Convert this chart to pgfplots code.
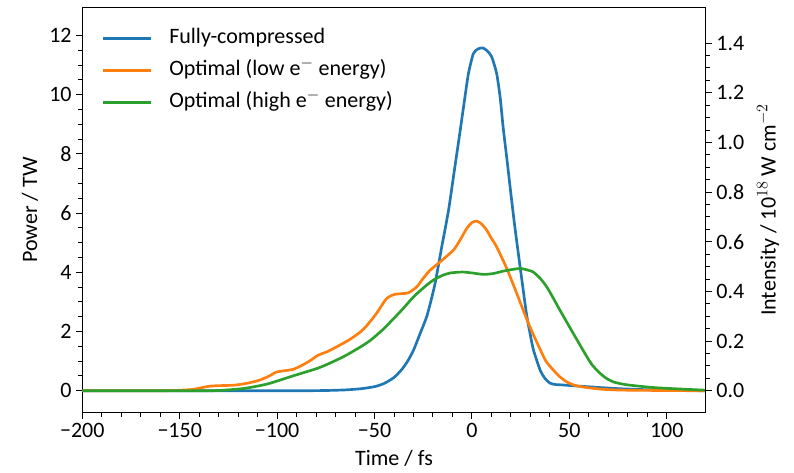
\documentclass[border=0pt]{standalone}
\usepackage{fontspec}
\setmainfont{Carlito}
\usepackage{pgfplots}
\pgfplotsset{compat=1.18}
\usetikzlibrary{calc}
\definecolor{cblue}{HTML}{1F77B4}
\definecolor{corange}{HTML}{FF7F0E}
\definecolor{cgreen}{HTML}{2CA02C}
\newcommand{\fs}{\fontsize{16.5}{19.8}\selectfont}
\pgfplotsset{
  mystyle/.style={
    scale only axis, width=467.55pt, height=304.05pt,
    xmin=-200, xmax=120,
    tick align=outside,
    major tick length=4.5pt, minor tick length=3pt,
    every tick/.style={black, line width=0.75pt},
    axis line style={line width=0.75pt},
    tick label style={font=\fs},
    label style={font=\fs},
    /pgf/number format/assume math mode=true,
  }
}
\begin{document}
\begin{tikzpicture}[font=\fs]
\begin{axis}[mystyle,
  ymin=-0.74, ymax=12.95,
  xtick={-200,-150,-100,-50,0,50,100},
  xticklabels={−200,−150,−100,−50,0,50,100},
  minor x tick num=4,
  ytick={0,2,4,6,8,10,12},
  minor y tick num=3,
  xtick pos=left, ytick pos=left,
  xlabel={Time / fs}, ylabel={Power / TW},
  every axis x label/.style={at={(axis description cs:0.5,-0.112)}, anchor=center},
  every axis y label/.style={at={(axis description cs:-0.0839,0.5)}, rotate=90, anchor=center},
  legend style={draw=none, fill=none, font=\fs, at={(axis description cs:0.0311,0.9507)}, anchor=north west, inner sep=0pt, row sep=8pt,
    nodes={inner xsep=0pt, inner ysep=0pt, text height=12pt, text depth=4pt},
    /tikz/every odd column/.style={column sep=12.5pt}},
  legend cell align=left,
  legend image code/.code={\draw[#1] (0pt,0pt) -- (36pt,0pt);},
  every axis plot/.append style={line width=2pt, smooth, tension=0.4},
]
\addplot[cblue] coordinates {
(-200,0.0) (-120,0.0) (-90,0.0) (-75,0.01) (-65,0.03) (-57,0.07) (-50,0.14) (-45,0.25) (-40,0.45) (-36,0.72) (-33,1.0) (-30,1.37) (-26.5,1.95) (-23,2.55) (-19,3.6) (-15.5,4.86) (-12,6.1) (-9,7.45) (-6,8.8) (-4,9.73) (-1.8,10.71) (0.7,11.38) (3,11.54) (5.6,11.58) (8,11.47) (10.2,11.27) (12.7,10.71) (14.5,9.9) (16.1,8.85) (18,7.8) (20,6.65) (22,5.55) (24.7,4.2) (28,2.6) (29.8,1.95) (31.5,1.4) (35,0.7) (37.5,0.42) (40,0.26) (43,0.21) (46,0.2) (52,0.17) (59,0.14) (68,0.1) (76,0.07) (93,0.03) (120,0.0)
};
\addlegendentry{Fully-compressed}
\addplot[corange] coordinates {
(-200,0) (-160,0.0) (-150,0.02) (-143,0.05) (-134,0.16) (-122,0.19) (-115,0.26) (-109,0.36) (-104,0.5) (-100,0.64) (-92,0.72) (-87,0.87) (-83,1.02) (-79,1.2) (-74,1.33) (-69,1.5) (-63,1.72) (-57,2.0) (-54,2.2) (-49,2.61) (-44,3.1) (-40,3.25) (-36,3.28) (-32.6,3.31) (-28.3,3.51) (-25,3.8) (-21.5,4.07) (-16.4,4.35) (-9.5,4.75) (-6,5.1) (-2.7,5.48) (0,5.68) (2.5,5.73) (5,5.63) (7.6,5.42) (10,5.15) (12.7,4.86) (17.9,4.13) (23,3.29) (28,2.44) (31.5,1.9) (35,1.4) (38,1.0) (41.8,0.7) (45,0.48) (48.7,0.3) (53,0.18) (58.9,0.11) (67.5,0.05) (80,0.02) (120,0.0)
};
\addlegendentry{Optimal (low e$^{-}$ energy)}
\addplot[cgreen] coordinates {
(-200,0) (-140,0.0) (-130,0.01) (-117,0.08) (-105,0.23) (-92,0.5) (-78,0.79) (-66,1.15) (-57,1.49) (-52,1.71) (-46,2.05) (-40,2.45) (-35,2.8) (-30,3.17) (-25,3.47) (-20,3.73) (-15,3.9) (-11,3.98) (-5,4.01) (0,3.98) (6,3.93) (11,3.96) (16,4.04) (21,4.1) (25,4.13) (29,4.07) (31.5,4.01) (35,3.8) (38.4,3.51) (42,3.1) (45.2,2.72) (52,1.94) (59,1.15) (62,0.85) (65.8,0.59) (69,0.42) (72.6,0.3) (77,0.23) (81,0.19) (93,0.11) (107,0.06) (120,0.02)
};
\addlegendentry{Optimal (high e$^{-}$ energy)}
\coordinate (sw) at (rel axis cs:0,0);
\coordinate (ne) at (rel axis cs:1,1);
\end{axis}
\begin{axis}[mystyle,
  ymin=-0.0882, ymax=1.544,
  axis x line=none,
  axis y line*=right,
  ytick={0,0.2,...,1.4},
  minor y tick num=3,
  yticklabel style={/pgf/number format/fixed, /pgf/number format/fixed zerofill, /pgf/number format/precision=1},
  ylabel={Intensity / 10$^{18}$ W cm$^{-2}$},
  every axis y label/.style={at={(axis description cs:1.1,0.5)}, rotate=90, anchor=center},
]
\end{axis}
\pgfresetboundingbox
\path ($(sw)+(-61.725pt,-44.475pt)$) rectangle ($(ne)+(66.225pt,5.475pt)$);
\end{tikzpicture}
\end{document}
